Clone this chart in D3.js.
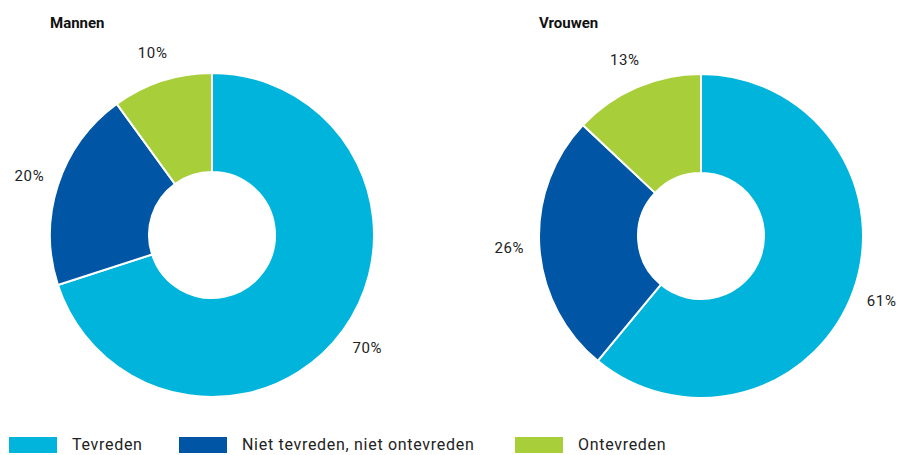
<!DOCTYPE html>
<html>
<head>
<meta charset="utf-8">
<script src="https://cdn.jsdelivr.net/npm/d3@7"></script>
<style>
  body { margin: 0; background: #fff; }
  svg { display: block; font-family: "Roboto", "Noto Sans", sans-serif; }
</style>
</head>
<body>
<div id="chart"></div>
<script>
const width = 899;
const height = 455;

// data
const categories = ["Tevreden", "Niet tevreden, niet ontevreden", "Ontevreden"];
const colors = ["#00b4dc", "#0056a5", "#a8cf39"];
const groups = ["Mannen", "Vrouwen"];
const mannen = [70, 20, 10];
const vrouwen = [61, 26, 13];

const svg = d3.select("#chart")
  .append("svg")
  .attr("width", width)
  .attr("height", height);

const color = d3.scaleOrdinal().domain(categories).range(colors);

const pie = d3.pie().sort(null).value(d => d.v);
const arc = d3.arc().innerRadius(63).outerRadius(162);
const labelArc = d3.arc().innerRadius(192).outerRadius(192);

function donut(name, values, cx, cy, tx) {
  svg.append("text")
    .attr("x", tx)
    .attr("y", 28)
    .attr("font-weight", "bold")
    .attr("font-size", 15)
    .attr("fill", "#111")
    .text(name);

  const g = svg.append("g").attr("transform", "translate(" + cx + "," + cy + ")");
  const data = pie(values.map((v, i) => ({ v: v, c: categories[i] })));

  g.selectAll("path")
    .data(data)
    .enter()
    .append("path")
    .attr("d", arc)
    .attr("fill", d => color(d.data.c))
    .attr("stroke", "#fff")
    .attr("stroke-width", 2);

  g.selectAll("text")
    .data(data)
    .enter()
    .append("text")
    .attr("transform", d => "translate(" + labelArc.centroid(d) + ")")
    .attr("text-anchor", "middle")
    .attr("dy", "0.35em")
    .attr("font-size", 15)
    .attr("letter-spacing", 0.6)
    .attr("fill", "#222")
    .text(d => d.data.v + "%");
}

donut(groups[0], mannen, 212, 235, 50);
donut(groups[1], vrouwen, 701, 236, 539);

// legend
const legendX = [9, 179, 515];
const legend = svg.append("g");
categories.forEach(function(c, i) {
  legend.append("rect")
    .attr("x", legendX[i])
    .attr("y", 437)
    .attr("width", 48)
    .attr("height", 16)
    .attr("fill", color(c));
  legend.append("text")
    .attr("x", legendX[i] + 63)
    .attr("y", 450)
    .attr("font-size", 16)
    .attr("letter-spacing", 0.7)
    .attr("fill", "#222")
    .text(c);
});
</script>
</body>
</html>
